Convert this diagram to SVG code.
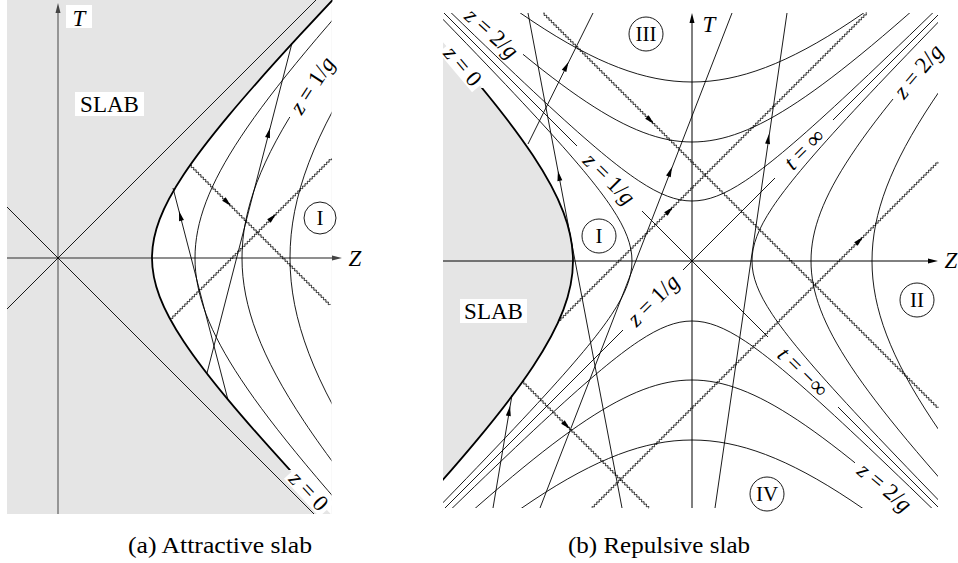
<svg xmlns="http://www.w3.org/2000/svg" width="958" height="563" viewBox="0 0 958 563">
<style>
.ln{fill:none;stroke:#000;stroke-width:0.9}
.axa{fill:none;stroke:#6a6a6a;stroke-width:1.3}
.ax{fill:none;stroke:#000;stroke-width:1}
.wave{fill:none;stroke:#000;stroke-width:0.75}
.reg{fill:none;stroke:#000;stroke-width:0.9}
text{font-family:"Liberation Serif","Times New Roman",serif;fill:#000}
.lbl{font-size:23px}
.m{font-style:italic}
</style>
<defs>
<path id="hb" d="M555.695,546.623C482.812,472.530 424.578,412.849 376.220,362.686C327.862,312.523 289.420,271.923 257.746,237.557C226.072,203.191 201.192,175.088 181.066,150.946C160.940,126.804 145.585,106.644 133.744,88.811C121.903,70.978 113.584,55.489 108.107,41.075C102.630,26.661 100,13.333 100,0C100,-13.333 102.630,-26.661 108.107,-41.075C113.584,-55.489 121.903,-70.978 133.744,-88.811C145.585,-106.644 160.940,-126.804 181.066,-150.946C201.192,-175.088 226.072,-203.191 257.746,-237.557C289.420,-271.923 327.862,-312.523 376.220,-362.686C424.578,-412.849 482.812,-472.530 555.695,-546.623"/>
<path id="wv" d="M0,0q0.85,-2 1.7,0t1.7,0 1.7,0 1.7,0 1.7,0 1.7,0 1.7,0 1.7,0 1.7,0 1.7,0 1.7,0 1.7,0 1.7,0 1.7,0 1.7,0 1.7,0 1.7,0 1.7,0 1.7,0 1.7,0 1.7,0 1.7,0 1.7,0 1.7,0 1.7,0 1.7,0 1.7,0 1.7,0 1.7,0 1.7,0 1.7,0 1.7,0 1.7,0 1.7,0 1.7,0 1.7,0 1.7,0 1.7,0 1.7,0 1.7,0 1.7,0 1.7,0 1.7,0 1.7,0 1.7,0 1.7,0 1.7,0 1.7,0 1.7,0 1.7,0 1.7,0 1.7,0 1.7,0 1.7,0 1.7,0 1.7,0 1.7,0 1.7,0 1.7,0 1.7,0 1.7,0 1.7,0 1.7,0 1.7,0 1.7,0 1.7,0 1.7,0 1.7,0 1.7,0 1.7,0 1.7,0 1.7,0 1.7,0 1.7,0 1.7,0 1.7,0 1.7,0 1.7,0 1.7,0 1.7,0 1.7,0 1.7,0 1.7,0 1.7,0 1.7,0 1.7,0 1.7,0 1.7,0 1.7,0 1.7,0 1.7,0 1.7,0 1.7,0 1.7,0 1.7,0 1.7,0 1.7,0 1.7,0 1.7,0 1.7,0 1.7,0 1.7,0 1.7,0 1.7,0 1.7,0 1.7,0 1.7,0 1.7,0 1.7,0 1.7,0 1.7,0 1.7,0 1.7,0 1.7,0 1.7,0 1.7,0 1.7,0 1.7,0 1.7,0 1.7,0 1.7,0 1.7,0 1.7,0 1.7,0 1.7,0 1.7,0 1.7,0 1.7,0 1.7,0 1.7,0 1.7,0 1.7,0 1.7,0 1.7,0 1.7,0 1.7,0 1.7,0 1.7,0 1.7,0 1.7,0 1.7,0 1.7,0 1.7,0 1.7,0 1.7,0 1.7,0 1.7,0 1.7,0 1.7,0 1.7,0 1.7,0 1.7,0 1.7,0 1.7,0 1.7,0 1.7,0 1.7,0 1.7,0 1.7,0 1.7,0 1.7,0 1.7,0 1.7,0 1.7,0 1.7,0 1.7,0 1.7,0 1.7,0 1.7,0 1.7,0 1.7,0 1.7,0 1.7,0 1.7,0 1.7,0 1.7,0 1.7,0 1.7,0 1.7,0 1.7,0 1.7,0 1.7,0 1.7,0 1.7,0 1.7,0 1.7,0 1.7,0 1.7,0 1.7,0 1.7,0 1.7,0 1.7,0 1.7,0 1.7,0 1.7,0 1.7,0 1.7,0 1.7,0 1.7,0 1.7,0 1.7,0 1.7,0 1.7,0 1.7,0 1.7,0 1.7,0 1.7,0 1.7,0 1.7,0 1.7,0 1.7,0 1.7,0 1.7,0 1.7,0 1.7,0 1.7,0 1.7,0 1.7,0 1.7,0 1.7,0 1.7,0 1.7,0 1.7,0 1.7,0 1.7,0 1.7,0 1.7,0 1.7,0 1.7,0 1.7,0 1.7,0 1.7,0 1.7,0 1.7,0 1.7,0 1.7,0 1.7,0 1.7,0 1.7,0 1.7,0 1.7,0 1.7,0 1.7,0 1.7,0 1.7,0 1.7,0 1.7,0 1.7,0 1.7,0 1.7,0 1.7,0 1.7,0 1.7,0 1.7,0 1.7,0 1.7,0 1.7,0 1.7,0 1.7,0 1.7,0 1.7,0 1.7,0 1.7,0 1.7,0 1.7,0 1.7,0 1.7,0 1.7,0 1.7,0 1.7,0 1.7,0 1.7,0 1.7,0 1.7,0 1.7,0 1.7,0 1.7,0 1.7,0 1.7,0 1.7,0 1.7,0 1.7,0 1.7,0 1.7,0 1.7,0 1.7,0 1.7,0 1.7,0 1.7,0 1.7,0 1.7,0 1.7,0 1.7,0 1.7,0 1.7,0 1.7,0 1.7,0 1.7,0 1.7,0 1.7,0 1.7,0 1.7,0 1.7,0 1.7,0 1.7,0 1.7,0 1.7,0 1.7,0 1.7,0 1.7,0 1.7,0 1.7,0 1.7,0 1.7,0 1.7,0 1.7,0 1.7,0 1.7,0 1.7,0 1.7,0 1.7,0 1.7,0 1.7,0 1.7,0 1.7,0 1.7,0 1.7,0 1.7,0 1.7,0 1.7,0 1.7,0 1.7,0 1.7,0"/>
<path id="ah" d="M0,0L-10,-2.5L-10,2.5Z"/>
<clipPath id="cA"><rect x="7" y="0" width="324.5" height="514"/></clipPath>
<clipPath id="cAthk"><rect x="7" y="0" width="325.5" height="470"/></clipPath>
<clipPath id="cA184"><rect x="7" y="117" width="324.5" height="397"/></clipPath>
<clipPath id="cB"><rect x="443" y="13" width="495" height="495"/></clipPath>
<clipPath id="cBthk"><rect x="443" y="88" width="495" height="420"/></clipPath>
<clipPath id="cBII"><rect x="443" y="99" width="495" height="409"/></clipPath>
<clipPath id="cBIII"><rect x="523" y="13" width="415" height="495"/></clipPath>
<clipPath id="cBIV"><rect x="443" y="13" width="412" height="495"/></clipPath>
<clipPath id="w1"><rect x="0" y="-4" width="197.8" height="8"/></clipPath>
<clipPath id="w2"><rect x="0" y="-4" width="227.8" height="8"/></clipPath>
<clipPath id="w3"><rect x="0" y="-4" width="558.6" height="8"/></clipPath>
<clipPath id="w4"><rect x="0" y="-4" width="489.3" height="8"/></clipPath>
<clipPath id="w5"><rect x="0" y="-4" width="436.3" height="8"/></clipPath>
<clipPath id="w6"><rect x="0" y="-4" width="178.7" height="8"/></clipPath>
</defs>

<g id="panel-a">
  <g id="a-slab">
    <rect x="7" y="0" width="324.5" height="514" fill="#e5e5e5"/>
    <g clip-path="url(#cA)"><use href="#hb" fill="#fff" stroke="none" transform="translate(58,258) scale(0.94)"/></g>
  </g>
  <g id="a-axes">
    <line class="axa" x1="58" y1="514" x2="58" y2="12"/>
    <use href="#ah" fill="#444" transform="translate(58,3) rotate(-90)"/>
    <line class="axa" x1="7" y1="258" x2="333" y2="258"/>
    <use href="#ah" fill="#444" transform="translate(342,258)"/>
  </g>
  <g id="a-connectors">
    <line class="ln" x1="7" y1="207" x2="314" y2="514"/>
    <line class="ln" x1="7" y1="309" x2="316" y2="0"/>
    <g clip-path="url(#cAthk)"><use href="#hb" fill="none" stroke="#000" stroke-width="1.915" transform="translate(58,258) scale(0.94)"/></g>
    <g clip-path="url(#cA)"><use href="#hb" fill="none" stroke="#000" stroke-width="0.657" transform="translate(58,258) scale(1.37)"/></g>
    <g clip-path="url(#cA184)"><use href="#hb" fill="none" stroke="#000" stroke-width="0.489" transform="translate(58,258) scale(1.84)"/></g>
    <g clip-path="url(#cA)"><use href="#hb" fill="none" stroke="#000" stroke-width="0.388" transform="translate(58,258) scale(2.32)"/></g>
    <line class="ln" x1="228" y1="400" x2="173" y2="188"/>
    <use href="#ah" transform="translate(179,211) rotate(-104.5)"/>
    <line class="ln" x1="207" y1="373" x2="292" y2="43"/>
    <use href="#ah" transform="translate(270,128) rotate(-75.6)"/>
    <g transform="translate(190.1,165.1) rotate(45)"><g clip-path="url(#w1)"><use href="#wv" class="wave"/></g></g>
    <use href="#ah" transform="translate(231,206) rotate(45)"/>
    <g transform="translate(170.4,319.6) rotate(-45)"><g clip-path="url(#w2)"><use href="#wv" class="wave"/></g></g>
    <use href="#ah" transform="translate(276,214) rotate(-45)"/>
  </g>
  <g id="a-labels">
    <rect x="66" y="5" width="26" height="23" fill="#fff"/>
    <text class="lbl m" x="79" y="26" text-anchor="middle">T</text>
    <text class="lbl m" x="355" y="266" text-anchor="middle">Z</text>
    <rect x="75" y="92" width="69" height="24" fill="#fff"/>
    <text class="lbl" x="109.5" y="104" text-anchor="middle" dominant-baseline="central">SLAB</text>
    <g transform="translate(309,491) rotate(47)">
      <rect x="-26" y="-10" width="52" height="20" fill="#fff"/>
      <text class="lbl" x="0" y="0" text-anchor="middle" dominant-baseline="central"><tspan class="m">z</tspan> = 0</text>
    </g>
    <text class="lbl" transform="translate(312,85) rotate(-57)" text-anchor="middle" dominant-baseline="central"><tspan class="m">z</tspan> = 1/<tspan class="m">g</tspan></text>
    <g id="a-region-I">
      <circle class="reg" cx="320" cy="218" r="16"/>
      <text x="320" y="218" text-anchor="middle" dominant-baseline="central" font-size="21">I</text>
    </g>
    <text x="220" y="553" text-anchor="middle" font-size="23" textLength="184" lengthAdjust="spacingAndGlyphs">(a) Attractive slab</text>
  </g>
</g>

<g id="panel-b">
  <g id="b-slab">
    <g clip-path="url(#cB)"><use href="#hb" fill="#e5e5e5" stroke="none" transform="translate(692,261) scale(-1.19,1.19)"/></g>
  </g>
  <g id="b-axes">
    <line class="ax" x1="692" y1="508" x2="692" y2="22"/>
    <use href="#ah" transform="translate(692,13) rotate(-90)"/>
    <line class="ax" x1="443" y1="261" x2="929" y2="261"/>
    <use href="#ah" transform="translate(938,261)"/>
  </g>
  <g id="b-connectors">
    <line class="ln" x1="444" y1="13" x2="577" y2="146"/>
    <line class="ln" x1="642" y1="211" x2="768" y2="337"/>
    <line class="ln" x1="838" y1="407" x2="938" y2="507"/>
    <line class="ln" x1="445" y1="508" x2="623" y2="330"/>
    <line class="ln" x1="683" y1="270" x2="775" y2="178"/>
    <line class="ln" x1="833" y1="120" x2="938" y2="15"/>
    <g clip-path="url(#cB)">
      <use href="#hb" fill="none" stroke="#000" stroke-width="1.5" transform="translate(692,261) scale(-0.6,0.6)"/>
      <use href="#hb" fill="none" stroke="#000" stroke-width="1.5" transform="translate(692,261) scale(0.6)"/>
      <use href="#hb" fill="none" stroke="#000" stroke-width="0.5" transform="translate(692,261) scale(1.8)"/>
      <use href="#hb" fill="none" stroke="#000" stroke-width="1.5" transform="translate(692,261) rotate(-90) scale(0.6)"/>
      <use href="#hb" fill="none" stroke="#000" stroke-width="0.503" transform="translate(692,261) rotate(-90) scale(1.79)"/>
      <use href="#hb" fill="none" stroke="#000" stroke-width="1.5" transform="translate(692,261) rotate(90) scale(0.6)"/>
      <use href="#hb" fill="none" stroke="#000" stroke-width="0.503" transform="translate(692,261) rotate(90) scale(1.79)"/>
    </g>
    <g clip-path="url(#cBthk)"><use href="#hb" fill="none" stroke="#000" stroke-width="1.513" transform="translate(692,261) scale(-1.19,1.19)"/></g>
    <g clip-path="url(#cBII)"><use href="#hb" fill="none" stroke="#000" stroke-width="0.756" transform="translate(692,261) scale(1.19)"/></g>
    <g clip-path="url(#cBIII)"><use href="#hb" fill="none" stroke="#000" stroke-width="0.756" transform="translate(692,261) rotate(-90) scale(1.19)"/></g>
    <g clip-path="url(#cBIV)"><use href="#hb" fill="none" stroke="#000" stroke-width="0.756" transform="translate(692,261) rotate(90) scale(1.19)"/></g>
    <line class="ln" x1="528" y1="144" x2="593" y2="13"/>
    <use href="#ah" transform="translate(568.5,62) rotate(-63.6)"/>
    <line class="ln" x1="622" y1="508" x2="528" y2="13"/>
    <use href="#ah" transform="translate(558,171) rotate(-100.75)"/>
    <line class="ln" x1="540" y1="508" x2="732" y2="13"/>
    <use href="#ah" transform="translate(672,167) rotate(-68.8)"/>
    <line class="ln" x1="493" y1="508" x2="512" y2="395"/>
    <use href="#ah" transform="translate(510,406) rotate(-80.5)"/>
    <line class="ln" x1="715" y1="508" x2="787" y2="13"/>
    <use href="#ah" transform="translate(769,134) rotate(-81.7)"/>
    <g transform="translate(543,13) rotate(45)"><g clip-path="url(#w3)"><use href="#wv" class="wave"/></g></g>
    <use href="#ah" transform="translate(654,124) rotate(45)"/>
    <g transform="translate(592,508) rotate(-45)"><g clip-path="url(#w4)"><use href="#wv" class="wave"/></g></g>
    <use href="#ah" transform="translate(863,237) rotate(-45)"/>
    <g transform="translate(558.5,321.5) rotate(-45)"><g clip-path="url(#w5)"><use href="#wv" class="wave"/></g></g>
    <use href="#ah" transform="translate(673,207) rotate(-45)"/>
    <g transform="translate(522.6,381.6) rotate(45)"><g clip-path="url(#w6)"><use href="#wv" class="wave"/></g></g>
    <use href="#ah" transform="translate(570,429) rotate(45)"/>
  </g>
  <g id="b-labels">
    <text class="lbl m" x="709" y="32" text-anchor="middle">T</text>
    <text class="lbl m" x="951" y="268" text-anchor="middle">Z</text>
    <rect x="460" y="299" width="67" height="24" fill="#fff"/>
    <text class="lbl" x="493.5" y="311" text-anchor="middle" dominant-baseline="central">SLAB</text>
    <g transform="translate(463,66) rotate(50)">
      <rect x="-26" y="-10" width="52" height="20" fill="#fff"/>
      <text class="lbl" x="0" y="0" text-anchor="middle" dominant-baseline="central"><tspan class="m">z</tspan> = 0</text>
    </g>
    <text class="lbl" transform="translate(492,33) rotate(42)" text-anchor="middle" dominant-baseline="central"><tspan class="m">z</tspan> = 2/<tspan class="m">g</tspan></text>
    <text class="lbl" transform="translate(609.5,178.5) rotate(45)" text-anchor="middle" dominant-baseline="central"><tspan class="m">z</tspan> = 1/<tspan class="m">g</tspan></text>
    <text class="lbl" transform="translate(653,300) rotate(-45)" text-anchor="middle" dominant-baseline="central"><tspan class="m">z</tspan> = 1/<tspan class="m">g</tspan></text>
    <text class="lbl" transform="translate(804,149) rotate(-45)" text-anchor="middle" dominant-baseline="central"><tspan class="m">t</tspan> = ∞</text>
    <text class="lbl" transform="translate(803,372) rotate(45)" text-anchor="middle" dominant-baseline="central"><tspan class="m">t</tspan> = −∞</text>
    <text class="lbl" transform="translate(918,71) rotate(-50)" text-anchor="middle" dominant-baseline="central"><tspan class="m">z</tspan> = 2/<tspan class="m">g</tspan></text>
    <text class="lbl" transform="translate(885,487) rotate(40)" text-anchor="middle" dominant-baseline="central"><tspan class="m">z</tspan> = 2/<tspan class="m">g</tspan></text>
    <g id="b-region-I">
      <circle class="reg" cx="599" cy="236" r="17"/>
      <text x="599" y="236" text-anchor="middle" dominant-baseline="central" font-size="21">I</text>
    </g>
    <g id="b-region-II">
      <circle class="reg" cx="917" cy="300" r="17"/>
      <text x="917" y="300" text-anchor="middle" dominant-baseline="central" font-size="21">II</text>
    </g>
    <g id="b-region-III">
      <circle class="reg" cx="646" cy="34" r="17"/>
      <text x="646" y="34" text-anchor="middle" dominant-baseline="central" font-size="21">III</text>
    </g>
    <g id="b-region-IV">
      <circle class="reg" cx="767" cy="494" r="17"/>
      <text x="767" y="494" text-anchor="middle" dominant-baseline="central" font-size="21">IV</text>
    </g>
    <text x="659" y="553" text-anchor="middle" font-size="23" textLength="182" lengthAdjust="spacingAndGlyphs">(b) Repulsive slab</text>
  </g>
</g>
</svg>
